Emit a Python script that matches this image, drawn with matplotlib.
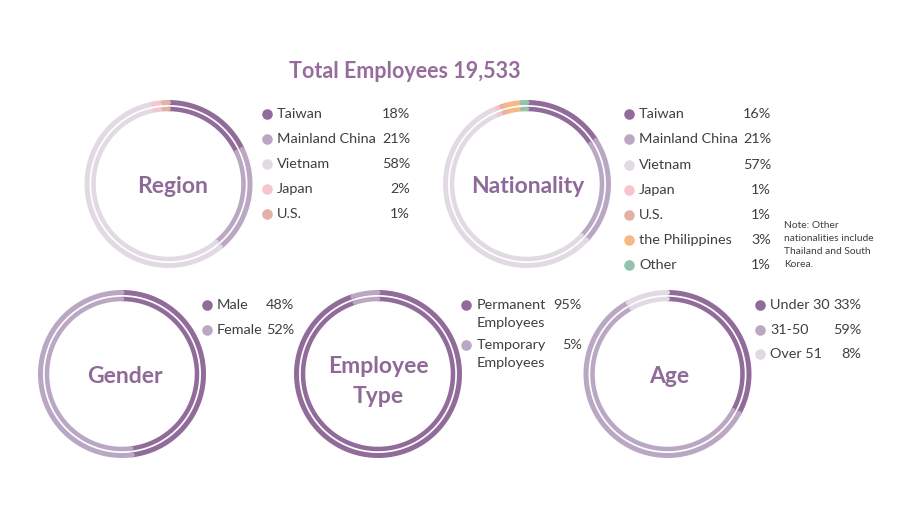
import matplotlib
matplotlib.use('Agg')
import matplotlib.pyplot as plt
import numpy as np

plt.rcParams['font.family'] = ['Lato', 'DejaVu Sans']

# ---------------- data ----------------
title = "Total Employees 19,533"

region_labels = ["Taiwan", "Mainland China", "Vietnam", "Japan", "U.S."]
region_values = [18, 21, 58, 2, 1]

nat_labels = ["Taiwan", "Mainland China", "Vietnam", "Japan", "U.S.",
              "the Philippines", "Other"]
nat_values = [16, 21, 57, 1, 1, 3, 1]
nat_note = "Note: Other\nnationalities include\nThailand and South\nKorea."

gender_labels = ["Male", "Female"]
gender_values = [48, 52]

emp_labels = ["Permanent\nEmployees", "Temporary\nEmployees"]
emp_values = [95, 5]

age_labels = ["Under 30", "31-50", "Over 51"]
age_values = [33, 59, 8]

# ---------------- style ----------------
DARK = '#916b99'
MID = '#b9a7c3'
LIGHT = '#e1dae3'
PINK = '#f6c6ce'
TAN = '#e2b2a4'
ORANGE = '#f7b883'
GREEN = '#95c2aa'
TITLE_C = '#966c9c'
LABEL_C = '#8f6a98'
TEXT_C = '#3f3f3f'

W, H = 907, 515
fig = plt.figure(figsize=(W / 100, H / 100), dpi=100)
ax = fig.add_axes([0, 0, 1, 1])
ax.set_xlim(0, W)
ax.set_ylim(0, H)
ax.set_aspect('equal')
ax.axis('off')


def Y(y):
    return H - y


# ring (mid radius, width in px)
RINGS = [(81.5, 5.0), (75.0, 4.5)]
PX2PT = 72 / 100


def donut(cx, cy, values, colors):
    vals = np.asarray(values, dtype=float)
    frac = vals / vals.sum()
    ends = np.cumsum(frac)
    starts = ends - frac
    for rmid, w in RINGS:
        for s, e, c in zip(starts, ends, colors):
            th = np.radians(90 - 360 * np.linspace(s, e, 200))
            ax.plot(cx + rmid * np.cos(th), Y(cy) + rmid * np.sin(th),
                    color=c, lw=w * PX2PT, solid_capstyle='round')


def center_label(x, lines, baselines):
    for ln, b in zip(lines, baselines):
        ax.text(x, Y(b), ln, ha='center', va='baseline', fontsize=16.5,
                fontweight='bold', color=LABEL_C)


def legend(mx, tx, px, ys, labels, values, colors, line_gap=18):
    for y, lab, v, c in zip(ys, labels, values, colors):
        ax.plot([mx], [Y(y)], 'o', ms=7.6, color=c, mec='none')
        parts = lab.split('\n')
        for i, p in enumerate(parts):
            ax.text(tx, Y(y + i * line_gap), p, ha='left', va='center',
                    fontsize=10.4, color=TEXT_C)
        ax.text(px, Y(y), f"{v}%", ha='right', va='center', fontsize=10.4,
                color=TEXT_C)


# Region
reg_colors = [DARK, MID, LIGHT, PINK, TAN]
donut(168.5, 184, region_values, reg_colors)
center_label(173, ["Region"], [193])
legend(267, 277, 410, [114, 139, 164, 189, 214], region_labels,
       region_values, reg_colors)

# Nationality
nat_colors = [DARK, MID, LIGHT, PINK, TAN, ORANGE, GREEN]
donut(527, 184, nat_values, nat_colors)
center_label(528, ["Nationality"], [193])
legend(629, 639, 771, [114, 139, 165, 190, 215, 240, 265], nat_labels,
       nat_values, nat_colors)
ax.text(784, Y(221.5), nat_note, ha='left', va='top', fontsize=7.4,
        color=TEXT_C, linespacing=1.55)

# Gender
g_colors = [DARK, MID]
donut(122, 374, gender_values, g_colors)
center_label(125, ["Gender"], [383])
legend(207, 217, 294, [305, 330], gender_labels, gender_values, g_colors)

# Employee type
e_colors = [DARK, MID]
donut(378, 374, emp_values, e_colors)
center_label(378, ["Employee", "Type"], [373, 403])
legend(466, 477, 582, [305, 345], emp_labels, emp_values, e_colors)

# Age
a_colors = [DARK, MID, LIGHT]
donut(667.5, 374, age_values, a_colors)
center_label(669, ["Age"], [383])
legend(760, 770, 861, [305, 330, 354], age_labels, age_values, a_colors)

# Title
ax.text(405, Y(72), title, ha='center', va='center', fontsize=15.5,
        fontweight='bold', color=TITLE_C)

fig.savefig('out.png', dpi=100, facecolor='white')
